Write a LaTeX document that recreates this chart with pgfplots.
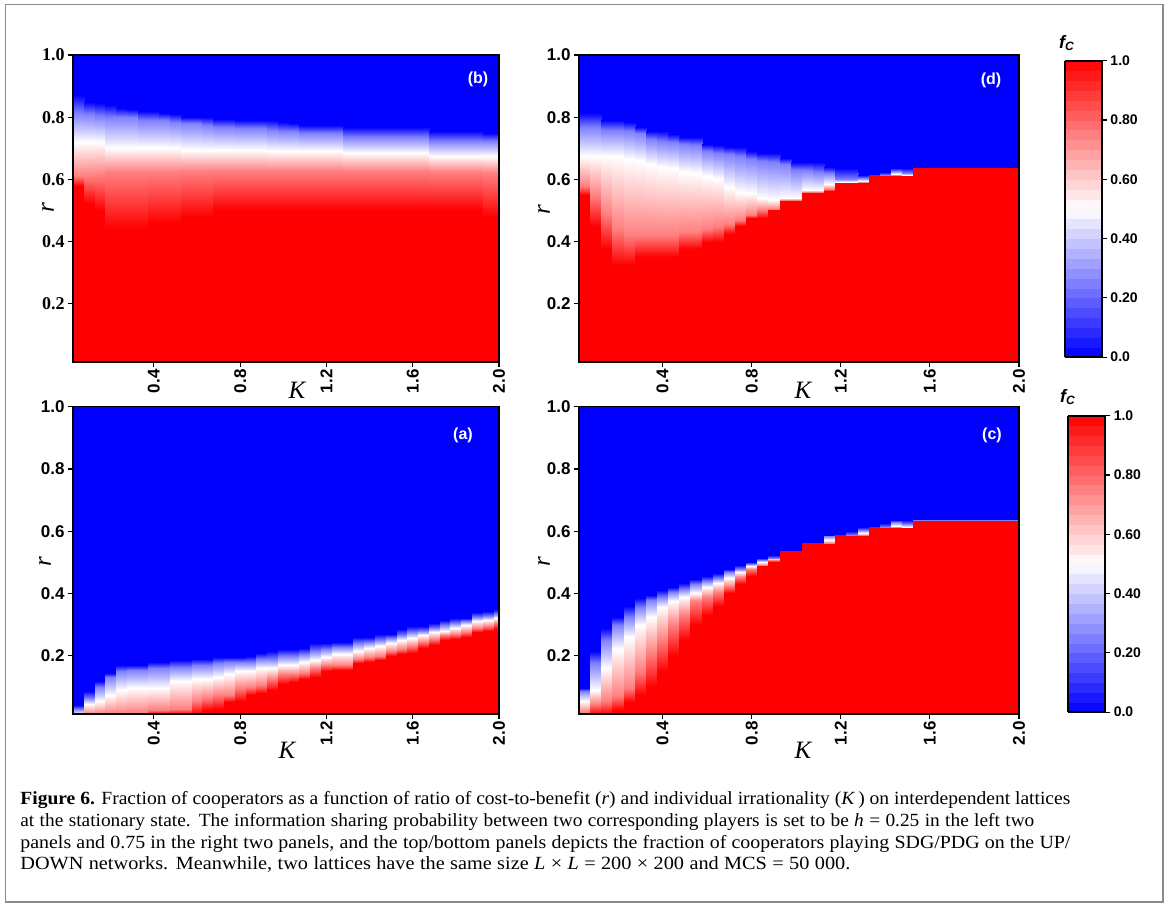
\documentclass[border=0pt]{standalone}
\usepackage{fontspec}
\setmainfont{Liberation Serif}
\newfontfamily\sansb{Liberation Sans}
\newfontfamily\capfontA{Liberation Serif}[FakeStretch=1.05]
\newfontfamily\capfontB{Liberation Serif}[FakeStretch=1.04]
\newfontfamily\capfontC{Liberation Serif}[FakeStretch=1.07]
\newfontfamily\capfontD{Liberation Serif}[FakeStretch=1.09]
\usepackage{pgfplots}
\usepackage{pgfplotstable}
\pgfplotsset{compat=1.18}

\definecolor{cblue}{RGB}{0,0,255}
\pgfplotsset{colormap={bwr}{rgb255=(0,0,255) rgb255=(255,255,255) rgb255=(255,0,0)}}

\newcommand\tickfont{\sansb\bfseries\fontsize{8.5}{8.5}\selectfont}
\newcommand\tickfontserif{\rmfamily\bfseries\fontsize{9}{9}\selectfont}
\newcommand\cbfont{\sansb\bfseries\fontsize{7}{7}\selectfont}

% columns: k = K index (K = 0.05k); boundaries of f_C = 1, 0.75, 0.5, 0.25, 0 along r
\pgfplotstableread{
k ra rb rc rd re
1 0.58 0.61 0.72 0.812 0.87
2 0.525 0.61 0.72 0.81 0.85
3 0.50 0.615 0.72 0.805 0.845
4 0.44 0.625 0.70 0.80 0.84
5 0.44 0.625 0.70 0.80 0.83
6 0.44 0.625 0.70 0.80 0.825
7 0.44 0.625 0.70 0.79 0.82
8 0.46 0.625 0.70 0.79 0.82
9 0.46 0.625 0.70 0.79 0.815
10 0.46 0.625 0.70 0.785 0.81
11 0.48 0.628 0.695 0.78 0.80
12 0.48 0.628 0.695 0.78 0.80
13 0.48 0.628 0.695 0.775 0.80
14 0.50 0.628 0.695 0.77 0.795
15 0.50 0.628 0.695 0.77 0.795
16 0.50 0.628 0.695 0.765 0.79
17 0.50 0.628 0.695 0.765 0.79
18 0.50 0.628 0.695 0.765 0.79
19 0.50 0.628 0.69 0.76 0.79
20 0.50 0.628 0.69 0.755 0.785
21 0.50 0.628 0.69 0.755 0.78
22 0.50 0.628 0.69 0.75 0.775
23 0.50 0.628 0.69 0.75 0.775
24 0.50 0.628 0.69 0.75 0.775
25 0.50 0.628 0.69 0.75 0.775
26 0.50 0.628 0.685 0.735 0.77
27 0.50 0.628 0.685 0.735 0.77
28 0.50 0.628 0.685 0.735 0.77
29 0.50 0.628 0.685 0.735 0.77
30 0.50 0.628 0.685 0.735 0.77
31 0.50 0.628 0.685 0.735 0.77
32 0.50 0.628 0.685 0.735 0.77
33 0.50 0.628 0.685 0.735 0.77
34 0.50 0.625 0.675 0.725 0.755
35 0.50 0.625 0.675 0.725 0.755
36 0.50 0.625 0.675 0.725 0.755
37 0.50 0.625 0.675 0.725 0.755
38 0.50 0.625 0.675 0.725 0.755
39 0.48 0.62 0.675 0.725 0.75
40 0.48 0.62 0.675 0.725 0.75
}\tabB

\pgfplotstableread{
k ra rb rc rd re
1 0.55 0.58 0.675 0.77 0.815
2 0.45 0.545 0.675 0.77 0.815
3 0.375 0.49 0.675 0.76 0.79
4 0.325 0.44 0.675 0.76 0.79
5 0.325 0.42 0.665 0.755 0.785
6 0.35 0.42 0.66 0.75 0.77
7 0.35 0.42 0.65 0.73 0.755
8 0.35 0.42 0.64 0.725 0.755
9 0.35 0.42 0.635 0.72 0.745
10 0.375 0.43 0.625 0.715 0.735
11 0.375 0.43 0.62 0.71 0.735
12 0.40 0.44 0.61 0.69 0.715
13 0.40 0.45 0.60 0.685 0.71
14 0.425 0.455 0.575 0.68 0.705
15 0.45 0.47 0.56 0.675 0.705
16 0.475 0.485 0.555 0.665 0.69
17 0.475 0.50 0.54 0.66 0.685
18 0.50 0.505 0.535 0.655 0.685
19 0.53 0.535 0.54 0.65 0.668
20 0.53 0.535 0.54 0.63 0.655
21 0.555 0.56 0.565 0.63 0.655
22 0.555 0.56 0.565 0.625 0.655
23 0.5625 0.57 0.585 0.62 0.64
24 0.5875 0.59 0.592 0.60 0.635
25 0.5875 0.59 0.592 0.60 0.635
26 0.5875 0.59 0.595 0.605 0.6125
27 0.6125 0.6125 0.6125 0.6125 0.6126
28 0.6125 0.6125 0.6125 0.6125 0.625
29 0.6125 0.614 0.618 0.628 0.6375
30 0.6125 0.6125 0.614 0.622 0.6375
31 0.6375 0.6375 0.6375 0.6375 0.6376
32 0.6375 0.6375 0.6375 0.6375 0.6376
33 0.6375 0.6375 0.6375 0.6375 0.6376
34 0.6375 0.6375 0.6375 0.6375 0.6376
35 0.6375 0.6375 0.6375 0.6375 0.6376
36 0.6375 0.6375 0.6375 0.6375 0.6376
37 0.6375 0.6375 0.6375 0.6375 0.6376
38 0.6375 0.6375 0.6375 0.6375 0.6376
39 0.6375 0.6375 0.6375 0.6375 0.6376
40 0.6375 0.6375 0.6375 0.6375 0.6376
}\tabD

\pgfplotstableread{
k ra rb rc rd re
1 0.0125 0.0125 0.0125 0.03 0.04
2 0.0125 0.0125 0.045 0.065 0.085
3 0.0125 0.0125 0.055 0.10 0.12
4 0.0125 0.0125 0.075 0.13 0.145
5 0.0125 0.0125 0.09 0.15 0.17
6 0.0125 0.015 0.095 0.155 0.17
7 0.0125 0.015 0.095 0.155 0.17
8 0.0125 0.025 0.095 0.16 0.18
9 0.0125 0.025 0.095 0.16 0.18
10 0.0125 0.03 0.12 0.165 0.185
11 0.0125 0.03 0.12 0.165 0.185
12 0.0125 0.055 0.125 0.17 0.19
13 0.025 0.065 0.125 0.17 0.19
14 0.03 0.075 0.13 0.175 0.195
15 0.05 0.075 0.14 0.18 0.195
16 0.055 0.095 0.15 0.18 0.195
17 0.075 0.10 0.15 0.18 0.20
18 0.08 0.105 0.16 0.19 0.21
19 0.09 0.125 0.16 0.19 0.215
20 0.11 0.14 0.17 0.20 0.22
21 0.115 0.14 0.17 0.20 0.22
22 0.125 0.145 0.18 0.205 0.225
23 0.13 0.16 0.185 0.215 0.24
24 0.15 0.17 0.195 0.222 0.24
25 0.155 0.17 0.205 0.228 0.245
26 0.155 0.17 0.205 0.228 0.245
27 0.175 0.19 0.215 0.24 0.26
28 0.18 0.195 0.225 0.243 0.26
29 0.185 0.20 0.23 0.25 0.27
30 0.20 0.215 0.24 0.257 0.27
31 0.205 0.22 0.25 0.268 0.285
32 0.21 0.23 0.258 0.275 0.295
33 0.225 0.245 0.265 0.28 0.295
34 0.235 0.252 0.275 0.29 0.305
35 0.25 0.265 0.28 0.297 0.315
36 0.255 0.27 0.29 0.305 0.32
37 0.26 0.275 0.30 0.31 0.32
38 0.275 0.29 0.31 0.325 0.34
39 0.28 0.295 0.315 0.327 0.345
40 0.285 0.305 0.322 0.335 0.35
}\tabA

\pgfplotstableread{
k ra rb rc rd re
1 0.0125 0.02 0.055 0.085 0.095
2 0.0125 0.045 0.09 0.175 0.215
3 0.0125 0.055 0.16 0.25 0.29
4 0.025 0.07 0.22 0.30 0.325
5 0.05 0.095 0.26 0.325 0.36
6 0.075 0.15 0.30 0.355 0.385
7 0.10 0.21 0.325 0.38 0.395
8 0.15 0.25 0.355 0.39 0.41
9 0.20 0.30 0.375 0.405 0.42
10 0.25 0.33 0.39 0.415 0.435
11 0.30 0.375 0.40 0.43 0.445
12 0.33 0.39 0.42 0.44 0.455
13 0.36 0.405 0.435 0.448 0.465
14 0.40 0.425 0.45 0.468 0.48
15 0.43 0.452 0.47 0.478 0.49
16 0.455 0.478 0.488 0.493 0.50
17 0.4875 0.4925 0.50 0.506 0.5125
18 0.50 0.508 0.5125 0.515 0.525
19 0.5375 0.5375 0.5375 0.5375 0.5376
20 0.5375 0.5375 0.5375 0.5375 0.5376
21 0.5625 0.5625 0.5625 0.5625 0.5626
22 0.5625 0.5625 0.5625 0.5625 0.5626
23 0.5625 0.5625 0.572 0.583 0.5875
24 0.5875 0.5875 0.5875 0.5875 0.5876
25 0.5875 0.5875 0.5875 0.5875 0.60
26 0.5875 0.5875 0.593 0.603 0.6125
27 0.6125 0.6125 0.6125 0.6125 0.6126
28 0.6125 0.6125 0.6125 0.6125 0.625
29 0.6125 0.614 0.618 0.628 0.6375
30 0.6125 0.6125 0.614 0.622 0.6375
31 0.6375 0.6375 0.6375 0.6375 0.6376
32 0.6375 0.6375 0.6375 0.6375 0.6376
33 0.6375 0.6375 0.6375 0.6375 0.6376
34 0.6375 0.6375 0.6375 0.6375 0.6376
35 0.6375 0.6375 0.6375 0.6375 0.6376
36 0.6375 0.6375 0.6375 0.6375 0.6376
37 0.6375 0.6375 0.6375 0.6375 0.6376
38 0.6375 0.6375 0.6375 0.6375 0.6376
39 0.6375 0.6375 0.6375 0.6375 0.6376
40 0.6375 0.6375 0.6375 0.6375 0.6376
}\tabC

% reshape one row per K column into a mesh (two scanlines per column: its left and right edge)
\newcommand\buildmesh[2]{%
  \gdef#2{}%
  \pgfplotstablegetrowsof{#1}%
  \pgfmathtruncatemacro\nlast{\pgfplotsretval-1}%
  \pgfplotsforeachungrouped \ii in {0,...,\nlast}{%
    \pgfplotstablegetelem{\ii}{k}\of{#1}\let\myk\pgfplotsretval
    \pgfplotstablegetelem{\ii}{ra}\of{#1}\let\mya\pgfplotsretval
    \pgfplotstablegetelem{\ii}{rb}\of{#1}\let\myb\pgfplotsretval
    \pgfplotstablegetelem{\ii}{rc}\of{#1}\let\myc\pgfplotsretval
    \pgfplotstablegetelem{\ii}{rd}\of{#1}\let\myd\pgfplotsretval
    \pgfplotstablegetelem{\ii}{re}\of{#1}\let\mye\pgfplotsretval
    \pgfmathsetmacro\xl{max(0.025,0.05*\myk-0.025)}%
    \pgfmathsetmacro\xr{min(2.0,0.05*\myk+0.025)}%
    \xdef#2{#2 (\xl,0.0125) [1] (\xl,\mya) [1] (\xl,\myb) [0.75] (\xl,\myc) [0.5] (\xl,\myd) [0.25] (\xl,\mye) [0]
      (\xr,0.0125) [1] (\xr,\mya) [1] (\xr,\myb) [0.75] (\xr,\myc) [0.5] (\xr,\myd) [0.25] (\xr,\mye) [0]}%
  }%
}

\pgfplotsset{
  panel/.style={
    scale only axis, anchor=south west,
    xmin=0.025, xmax=2.0, ymin=0.0125, ymax=1.0,
    enlargelimits=false, axis on top,
    axis background/.style={fill=cblue},
    colormap name=bwr, point meta min=0, point meta max=1,
    xtick={0.4,0.8,1.2,1.6,2.0}, xticklabels={0.4,0.8,1.2,1.6,2.0},
    ytick={0.2,0.4,0.6,0.8,1.0}, yticklabels={0.2,0.4,0.6,0.8,1.0},
    tick pos=left, tick align=outside, major tick length=2.5pt,
    tick style={black, line width=0.6pt},
    axis line style={black, line width=0.6pt},
    xticklabel style={rotate=90, anchor=east, inner sep=1pt, font=\tickfont},
    yticklabel style={inner sep=1.5pt, font=\tickfont},
  },
  cellsurf/.style={surf, shader=interp, mesh/cols=6, point meta=explicit, mesh/check=false},
  cbar/.style 2 args={colorbar sampled, colorbar style={
    scale only axis, at={(parent axis.north east)}, anchor=north west,
    xshift=#1, yshift=#2, width=18.65pt, height=148.2pt, samples=31,
    ytick={0,0.2,0.4,0.6,0.8,1}, yticklabels={0.0,0.20,0.40,0.60,0.80,1.0},
    ytick pos=right, yticklabel pos=right, tick align=outside, major tick length=2.5pt,
    tick style={black, line width=0.6pt},
    yticklabel style={font=\cbfont, inner sep=1.5pt},
    axis line style={black, line width=0.9pt},
  }},
}

\begin{document}
\begin{tikzpicture}
\useasboundingbox (0pt,0pt) rectangle (584pt,-453pt);
\buildmesh{\tabB}{\meshB}
\buildmesh{\tabD}{\meshD}
\buildmesh{\tabA}{\meshA}
\buildmesh{\tabC}{\meshC}

% (b) top left
\begin{axis}[panel, at={(36.5pt,-181pt)}, width=213pt, height=153.5pt,
  yticklabel style={font=\tickfontserif}]
\edef\tmp{\noexpand\addplot[cellsurf] coordinates {\meshB};}\tmp
\end{axis}
% (d) top right
\begin{axis}[panel, at={(289.5pt,-181pt)}, width=220pt, height=153.5pt, cbar={14.35pt}{-2.85pt}]
\edef\tmp{\noexpand\addplot[cellsurf] coordinates {\meshD};}\tmp
\end{axis}
% (a) bottom left
\begin{axis}[panel, at={(36.5pt,-357pt)}, width=213pt, height=153.65pt]
\edef\tmp{\noexpand\addplot[cellsurf] coordinates {\meshA};}\tmp
\end{axis}
% (c) bottom right
\begin{axis}[panel, at={(289.5pt,-357pt)}, width=220pt, height=153.65pt, cbar={16pt}{-4.5pt}]
\edef\tmp{\noexpand\addplot[cellsurf] coordinates {\meshC};}\tmp
\end{axis}

% axis labels
\begin{scope}[every node/.style={font=\rmfamily\itshape\fontsize{12.5}{12.5}\selectfont, inner sep=0pt}]
\node at (148.5pt,-195pt) {K};
\node at (401.5pt,-195pt) {K};
\node at (143.5pt,-375pt) {K};
\node at (401.5pt,-375pt) {K};
\node[rotate=90] at (24pt,-104pt) {r};
\node[rotate=90] at (272pt,-105pt) {r};
\node[rotate=90] at (22.5pt,-281pt) {r};
\node[rotate=90] at (272pt,-281pt) {r};
\end{scope}
% panel letters
\begin{scope}[every node/.style={font=\sansb\bfseries\fontsize{8}{8}\selectfont, text=white, inner sep=0pt}]
\node at (239pt,-39.5pt) {(b)};
\node at (495.5pt,-40pt) {(d)};
\node at (231.5pt,-217.5pt) {(a)};
\node at (496pt,-217.5pt) {(c)};
\end{scope}
% colorbar titles
\node[font=\sansb\bfseries\itshape\fontsize{9}{9}\selectfont, inner sep=0pt] at (533.5pt,-21.5pt) {f\textsubscript{C}};
\node[font=\sansb\bfseries\itshape\fontsize{9}{9}\selectfont, inner sep=0pt] at (534pt,-198.5pt) {f\textsubscript{C}};

% caption
\begin{scope}[every node/.style={anchor=base west, inner sep=0pt}]
\node[font=\capfontA\fontsize{9.3}{11}\selectfont] at (10pt,-402pt) {\hbox to 525pt{\textbf{Figure 6.} Fraction of cooperators as a function of ratio of cost-to-benefit (\textit{r}) and individual irrationality (\textit{K}\,) on interdependent lattices}};
\node[font=\capfontB\fontsize{9.3}{11}\selectfont] at (10pt,-413pt) {\hbox to 507pt{at the stationary state. The information sharing probability between two corresponding players is set to be \textit{h} = 0.25 in the left two}};
\node[font=\capfontC\fontsize{9.3}{11}\selectfont] at (10pt,-424pt) {\hbox to 525pt{panels and 0.75 in the right two panels, and the top/bottom panels depicts the fraction of cooperators playing SDG/PDG on the UP/}};
\node[font=\capfontD\fontsize{9.3}{11}\selectfont] at (10pt,-434.75pt) {\hbox to 415pt{DOWN networks. Meanwhile, two lattices have the same size \textit{L} × \textit{L} = 200 × 200 and MCS = 50~000.}};
\end{scope}

% outer frame
\draw[black!45, line width=0.8pt] (2.75pt,-2.25pt) rectangle (581.5pt,-451pt);
\end{tikzpicture}
\end{document}
